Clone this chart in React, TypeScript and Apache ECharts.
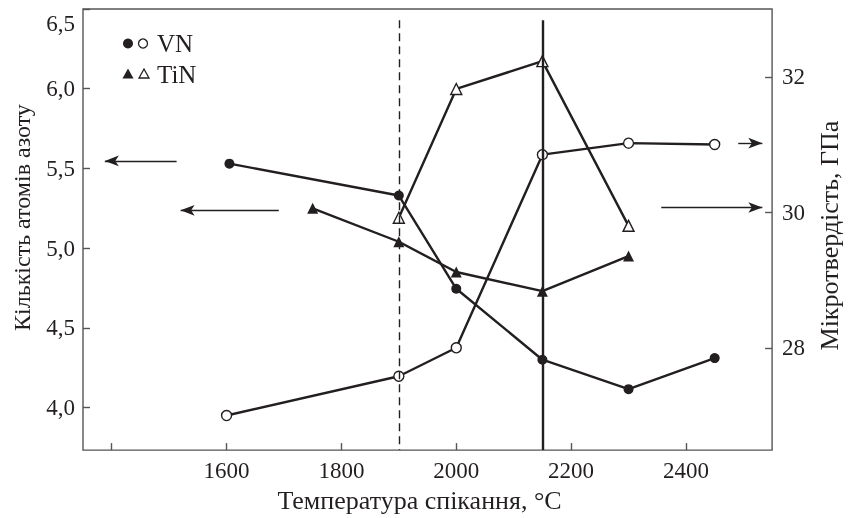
import React, { useEffect, useRef } from "react";
import * as echarts from "echarts";

// ---- data ----
const vnFilledTemp = [1605, 1900, 2000, 2150, 2300, 2450];
const vnAtoms = [5.53, 5.33, 4.745, 4.3, 4.115, 4.31];
const vnOpenTemp = [1600, 1900, 2000, 2150, 2300, 2450];
const vnHardness = [27.0, 27.58, 28.0, 30.85, 31.02, 31.0];
const tinFilledTemp = [1750, 1900, 2000, 2150, 2300];
const tinAtoms = [5.25, 5.04, 4.85, 4.73, 4.95];
const tinOpenTemp = [1900, 2000, 2150, 2300];
const tinHardness = [29.92, 31.82, 32.23, 29.8];

const xTicks = [1400, 1600, 1800, 2000, 2200, 2400];
const xLabels = [1600, 1800, 2000, 2200, 2400];
const leftTicks = [4.0, 4.5, 5.0, 5.5, 6.0, 6.5];
const rightTicks = [28, 30, 32];

// annotation arrows: [xFrom, xTo, y]
const leftArrows = [
  [1513, 1388, 5.547],
  [1691, 1520, 5.237],
];
const rightArrows = [
  [2491, 2533, 31.02],
  [2357, 2533, 30.07],
];
// vertical reference lines: [x, yTop, yBottom] (left-axis units)
const vLines = [
  { x: 1900, top: 6.43, bottom: 3.733, dashed: true },
  { x: 2150, top: 6.43, bottom: 3.733, dashed: false },
];

const FONT = '"Liberation Serif", "DejaVu Serif", serif';
const INK = "#231f20";
const AXIS = "#555555";

export default function App() {
  const ref = useRef<HTMLDivElement>(null);
  useEffect(() => {
    if (!ref.current) return;
    const chart = echarts.init(ref.current, undefined, { renderer: "svg" });
    const zip = (xs: number[], ys: number[]) => xs.map((x, i) => [x, ys[i]]);
    const lineStyle = { color: INK, width: 2.4 };
    const openItem = { color: "#ffffff", borderColor: INK, borderWidth: 1.4 };
    const filledItem = { color: INK };

    const leftMark = {
      silent: true,
      symbol: ["none", "none"],
      label: { show: false },
      emphasis: { disabled: true },
      data: [
        ...vLines.map((v) => [
          {
            coord: [v.x, v.top],
            lineStyle: {
              color: INK,
              width: v.dashed ? 1.4 : 2.4,
              type: v.dashed ? [8, 5] : "solid",
            },
            symbol: "none",
          },
          { coord: [v.x, v.bottom], symbol: "none" },
        ]),
        ...leftArrows.map((a) => [
          { coord: [a[0], a[2]], lineStyle: { color: INK, width: 1.4, type: "solid" }, symbol: "none" },
          { coord: [a[1], a[2]], symbol: "arrow", symbolSize: [8, 14] },
        ]),
      ],
    };
    const rightMark = {
      silent: true,
      symbol: ["none", "none"],
      label: { show: false },
      emphasis: { disabled: true },
      data: rightArrows.map((a) => [
        { coord: [a[0], a[2]], lineStyle: { color: INK, width: 1.4, type: "solid" }, symbol: "none" },
        { coord: [a[1], a[2]], symbol: "arrow", symbolSize: [8, 14] },
      ]),
    };

    const tickLabelStyle = { fontFamily: FONT, fontSize: 23, color: INK };
    const titleStyle = { fontFamily: FONT, fontSize: 26, color: INK };

    chart.setOption({
      animation: false,
      grid: {
        left: 83,
        top: 9,
        width: 694,
        height: 449,
        show: true,
        borderColor: AXIS,
        borderWidth: 1.4,
        backgroundColor: "transparent",
      },
      xAxis: {
        type: "value",
        min: 1350,
        max: 2550,
        name: "Температура спікання, °С",
        nameLocation: "middle",
        nameGap: 30,
        nameTextStyle: { ...titleStyle, padding: [0, 16, 0, 0] },
        axisLine: { show: false },
        axisTick: { show: true, inside: true, length: 7, customValues: xTicks, lineStyle: { color: AXIS, width: 1.4 } },
        axisLabel: { ...tickLabelStyle, margin: 9, customValues: xLabels, formatter: (v: number) => String(v) },
        splitLine: { show: false },
      },
      yAxis: [
        {
          type: "value",
          position: "left",
          min: 3.733,
          max: 6.5,
          name: "Кількість атомів азоту",
          nameLocation: "middle",
          nameRotate: 90,
          nameGap: 49,
          nameTextStyle: { ...titleStyle, fontSize: 24, padding: [0, 0, 0, 24] },
          axisLine: { show: false },
          axisTick: { show: true, inside: true, length: 7, customValues: leftTicks, lineStyle: { color: AXIS, width: 1.4 } },
          axisLabel: {
            ...tickLabelStyle,
            margin: 8,
            showMaxLabel: true,
            customValues: leftTicks,
            formatter: (v: number) => {
              const s = v.toFixed(1).replace(".", ",");
              return v >= 6.49 ? "{t|" + s + "}" : s;
            },
            rich: { t: { ...tickLabelStyle, padding: [28, 0, 0, 0] } },
          },
          splitLine: { show: false },
        },
        {
          type: "value",
          position: "right",
          min: 26.49,
          max: 33,
          name: "Мікротвердість, ГПа",
          nameLocation: "middle",
          nameRotate: 90,
          nameGap: 37,
          nameTextStyle: { ...titleStyle, padding: [0, 12, 0, 0] },
          axisLine: { show: false },
          axisTick: { show: true, inside: true, length: 7, customValues: rightTicks, lineStyle: { color: AXIS, width: 1.4 } },
          axisLabel: { ...tickLabelStyle, margin: 10, customValues: rightTicks },
          splitLine: { show: false },
        },
      ],
      series: [
        {
          name: "VN atoms",
          type: "line",
          yAxisIndex: 0,
          data: zip(vnFilledTemp, vnAtoms),
          symbol: "circle",
          symbolSize: 10,
          showAllSymbol: true,
          lineStyle,
          itemStyle: filledItem,
          z: 3,
          markLine: leftMark,
        },
        {
          name: "TiN atoms",
          type: "line",
          yAxisIndex: 0,
          data: zip(tinFilledTemp, tinAtoms),
          symbol: "triangle",
          symbolSize: 11,
          lineStyle,
          itemStyle: filledItem,
          z: 3,
        },
        {
          name: "VN hardness",
          type: "line",
          yAxisIndex: 1,
          data: zip(vnOpenTemp, vnHardness),
          symbol: "circle",
          symbolSize: 10,
          lineStyle,
          itemStyle: openItem,
          z: 4,
          markLine: rightMark,
        },
        {
          name: "TiN hardness",
          type: "line",
          yAxisIndex: 1,
          data: zip(tinOpenTemp, tinHardness),
          symbol: "triangle",
          symbolSize: 11,
          lineStyle,
          itemStyle: openItem,
          z: 4,
        },
      ],
      graphic: [
        { type: "circle", shape: { cx: 128, cy: 43.5, r: 5 }, style: { fill: INK } },
        { type: "circle", shape: { cx: 143, cy: 43.5, r: 4.5 }, style: { fill: "#fff", stroke: INK, lineWidth: 1.3 } },
        {
          type: "text",
          x: 157,
          y: 43.5,
          style: { text: "VN", font: "25px " + FONT, fill: INK, verticalAlign: "middle", align: "left" },
        },
        { type: "polygon", shape: { points: [[128, 68.5], [133.5, 78.5], [122.5, 78.5]] }, style: { fill: INK } },
        {
          type: "polygon",
          shape: { points: [[144, 69], [149, 78], [139, 78]] },
          style: { fill: "#fff", stroke: INK, lineWidth: 1.3 },
        },
        {
          type: "text",
          x: 157,
          y: 74,
          style: { text: "TiN", font: "25px " + FONT, fill: INK, verticalAlign: "middle", align: "left" },
        },
      ],
    });
    return () => chart.dispose();
  }, []);
  return <div ref={ref} style={{ position: "fixed", left: 0, top: 0, width: 850, height: 518 }} />;
}
